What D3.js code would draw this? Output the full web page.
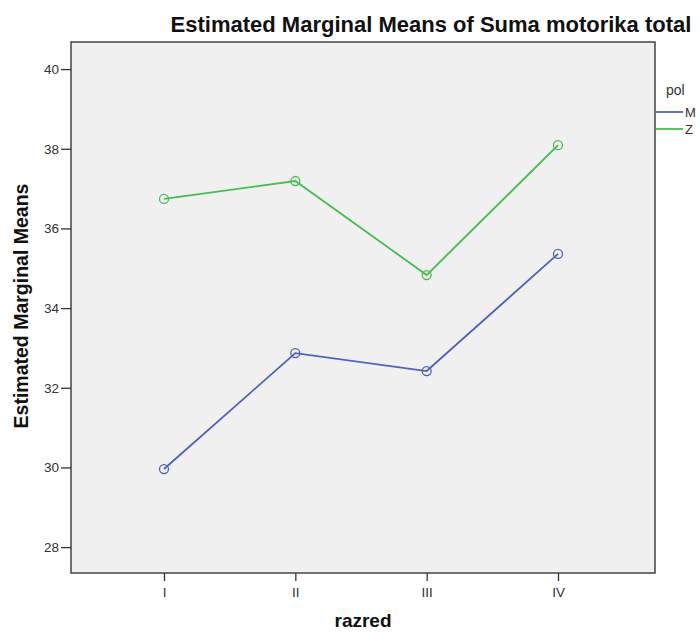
<!DOCTYPE html>
<html><head><meta charset="utf-8">
<script src="https://cdn.jsdelivr.net/npm/d3@7"></script>
<style>body{margin:0;background:#fff}svg{display:block}text{font-family:"Liberation Sans",Arial,sans-serif}</style>
</head><body>
<script>
const categories = ["I","II","III","IV"];
const seriesNames = ["M","Z"];
const valuesM = [29.96, 32.87, 32.42, 35.36];
const valuesZ = [36.74, 37.19, 34.83, 38.09];
const yTicks = [28,30,32,34,36,38,40];
const colors = ["#4d62bf","#44be4f"];

const W=700,H=633;
const plot={x0:71,y0:42,x1:655,y1:573};
const svg=d3.select("body").append("svg").attr("width",W).attr("height",H);

const x=d3.scalePoint().domain(categories).range([plot.x0+93,plot.x1-97]);
const y=d3.scaleLinear().domain([27.35,40.68]).range([plot.y1,plot.y0]);

svg.append("rect").attr("x",plot.x0).attr("y",plot.y0).attr("width",plot.x1-plot.x0).attr("height",plot.y1-plot.y0)
  .attr("fill","#f0f0f0").attr("stroke","#444").attr("stroke-width",1.5);

const yAxis=svg.append("g").attr("transform",`translate(${plot.x0},0)`)
  .call(d3.axisLeft(y).tickValues(yTicks).tickSize(10).tickPadding(2).tickFormat(d3.format("d")));
yAxis.select(".domain").remove();
yAxis.selectAll("line").attr("stroke","#333").attr("stroke-width",1.3);
yAxis.selectAll("text").attr("font-size",13.5).attr("fill","#333");

const xAxis=svg.append("g").attr("transform",`translate(0,${plot.y1})`)
  .call(d3.axisBottom(x).tickSize(8).tickPadding(6));
xAxis.select(".domain").remove();
xAxis.selectAll("line").attr("stroke","#333").attr("stroke-width",1.3);
xAxis.selectAll("text").attr("font-size",13.5).attr("fill","#333");

const series=[valuesM,valuesZ];
const line=d3.line().x((d,i)=>x(categories[i])).y(d=>y(d));
series.forEach((vals,k)=>{
  svg.append("path").datum(vals).attr("d",line).attr("fill","none").attr("stroke",colors[k]).attr("stroke-width",1.8);
  svg.selectAll(null).data(vals).enter().append("circle")
    .attr("cx",(d,i)=>x(categories[i])).attr("cy",d=>y(d)).attr("r",4.5)
    .attr("fill","none").attr("stroke",colors[k]).attr("stroke-width",1.3);
});

svg.append("text").attr("x",431).attr("y",32).attr("text-anchor","middle")
  .attr("font-size",22).attr("font-weight","bold").attr("fill","#111")
  .text("Estimated Marginal Means of Suma motorika total");
svg.append("text").attr("transform","translate(28,306) rotate(-90)").attr("text-anchor","middle")
  .attr("font-size",19.5).attr("font-weight","bold").attr("fill","#111").text("Estimated Marginal Means");
svg.append("text").attr("x",363).attr("y",627).attr("text-anchor","middle")
  .attr("font-size",19).attr("font-weight","bold").attr("fill","#111").text("razred");

const lg=svg.append("g");
lg.append("text").attr("x",666).attr("y",95).attr("font-size",14).attr("fill","#333").text("pol");
seriesNames.forEach((n,k)=>{
  const yy=112+k*17;
  lg.append("line").attr("x1",656).attr("x2",683).attr("y1",yy).attr("y2",yy).attr("stroke",colors[k]).attr("stroke-width",1.8);
  lg.append("text").attr("x",685).attr("y",yy+5).attr("font-size",13).attr("fill","#333").text(n);
});
</script>
</body></html>
